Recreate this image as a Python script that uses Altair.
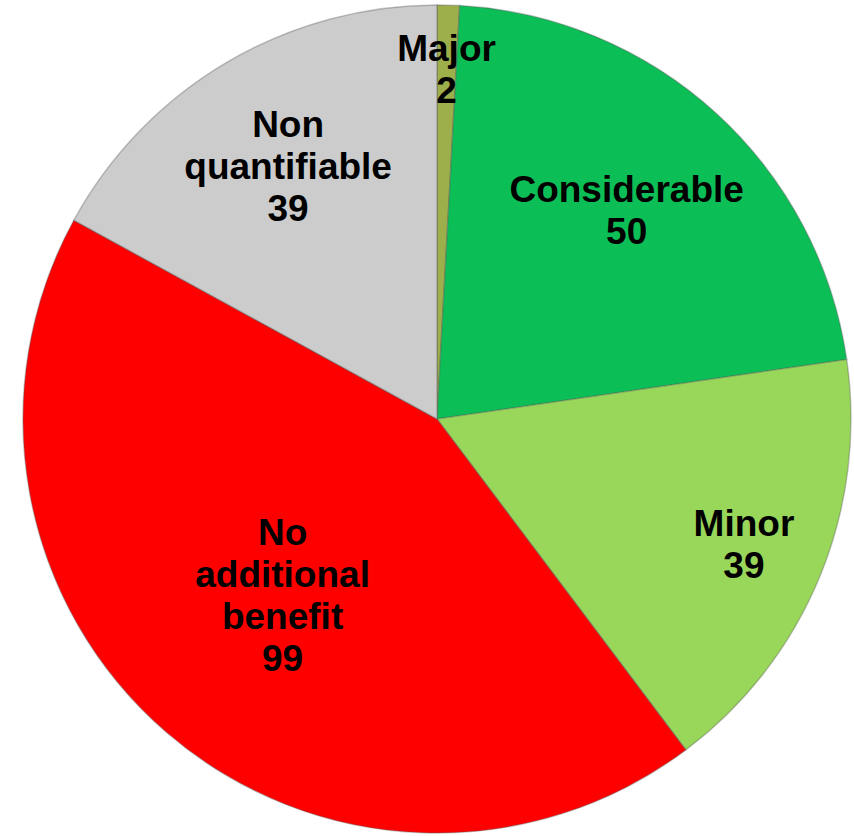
import altair as alt
import pandas as pd

# Benefit ratings, clockwise from twelve o'clock
categories = ["Major", "Considerable", "Minor", "No additional benefit", "Non quantifiable"]
counts = [2, 50, 39, 99, 39]
label_lines = [
    ["Major"],
    ["Considerable"],
    ["Minor"],
    ["No", "additional", "benefit"],
    ["Non", "quantifiable"],
]
colors = ["#9DAF4A", "#0CBE56", "#99D75A", "#FF0000", "#CCCCCC"]

# distance of each label block from the pie centre (pixels)
label_radius = {
    "Major": 348,
    "Considerable": 281,
    "Minor": 332,
    "No additional benefit": 236,
    "Non quantifiable": 292,
}

SIZE = 834          # square plot area
R = 414             # pie radius
LINE_H = 42         # label line height

df = pd.DataFrame({
    "category": categories,
    "count": counts,
    "order": list(range(len(categories))),
    "label": ["\n".join(lines + [str(c)]) for lines, c in zip(label_lines, counts)],
    "n_lines": [len(lines) + 1 for lines in label_lines],
})
df["label_r"] = df["category"].map(label_radius)

slices = alt.Chart(df).mark_arc(
    outerRadius=R, stroke="#5a5a5a", strokeOpacity=0.35, strokeWidth=1.5
).encode(
    theta=alt.Theta("count:Q", stack=True),
    order=alt.Order("order:Q"),
    color=alt.Color(
        "category:N",
        scale=alt.Scale(domain=categories, range=colors),
        legend=None,
    ),
)

# labels sit at the middle angle of their slice, each block centred vertically
labels = alt.Chart(df).transform_joinaggregate(
    total="sum(count)"
).transform_window(
    cum="sum(count)", sort=[alt.SortField("order")]
).transform_calculate(
    mid="(datum.cum - datum.count / 2) / datum.total * 2 * PI",
).transform_calculate(
    lx=f"{SIZE / 2} + datum.label_r * sin(datum.mid)",
    ly=f"{SIZE / 2} - datum.label_r * cos(datum.mid) - (datum.n_lines - 1) * {LINE_H / 2}",
).mark_text(
    font="Liberation Sans",
    fontSize=37,
    fontWeight="bold",
    lineBreak="\n",
    lineHeight=LINE_H,
    align="center",
    baseline="middle",
    color="black",
).encode(
    x=alt.X("lx:Q", scale=None, axis=None),
    y=alt.Y("ly:Q", scale=None, axis=None),
    text="label:N",
)

chart = (
    alt.layer(slices, labels)
    .properties(
        width=SIZE,
        height=SIZE,
        autosize=alt.AutoSizeParams(type="none"),
        padding={"left": 20, "top": 2, "right": 0, "bottom": 0},
        background="white",
    )
    .configure_view(strokeWidth=0)
)

chart.save("out.html", embed_options={"renderer": "svg", "actions": False})
